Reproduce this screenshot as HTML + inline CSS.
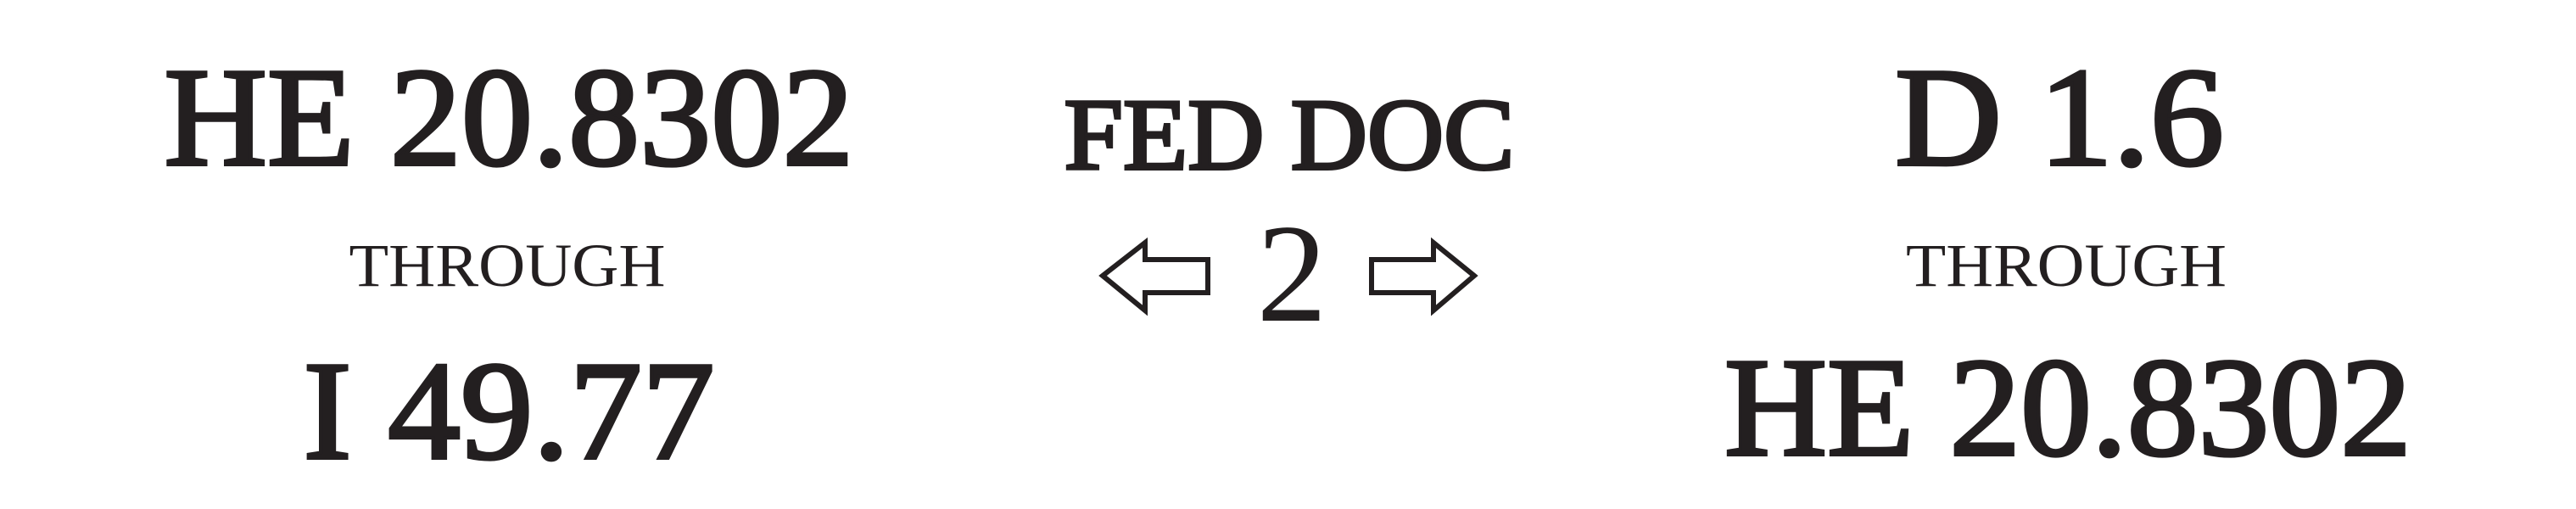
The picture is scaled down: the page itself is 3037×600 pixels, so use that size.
<!DOCTYPE html>
<html>
<head>
<meta charset="utf-8">
<style>
html,body{margin:0;padding:0;background:#fff;}
svg{display:block;}
text{font-family:"Liberation Serif",serif;fill:#231f20;}
.med{stroke:#231f20;stroke-width:4;}
</style>
</head>
<body>
<svg width="3037" height="600" viewBox="0 0 3037 600">
  <rect width="3037" height="600" fill="#fff"/>
  <!-- left column -->
  <text class="med" x="600" y="194" font-size="166" text-anchor="middle" textLength="813" lengthAdjust="spacingAndGlyphs">HE 20.8302</text>
  <text x="598" y="337" font-size="72" text-anchor="middle" textLength="373" lengthAdjust="spacingAndGlyphs">THROUGH</text>
  <text class="med" x="600" y="540" font-size="166" text-anchor="middle" textLength="485" lengthAdjust="spacingAndGlyphs">I 49.77</text>
  <!-- middle -->
  <text class="med" x="1520" y="199" font-size="120" text-anchor="middle" textLength="531" lengthAdjust="spacingAndGlyphs">FED DOC</text>
  <text x="1523" y="378" font-size="166" text-anchor="middle">2</text>
  <polygon points="1300,325 1350,286 1350,306 1424,306 1424,345 1350,345 1350,366" fill="none" stroke="#231f20" stroke-width="6"/>
  <polygon points="1738,325 1690,286 1690,306 1617,306 1617,345 1690,345 1690,366" fill="none" stroke="#231f20" stroke-width="6"/>
  <!-- right column -->
  <text class="med" x="2428" y="194" font-size="166" text-anchor="middle" textLength="388" lengthAdjust="spacingAndGlyphs">D 1.6</text>
  <text x="2436" y="337" font-size="72" text-anchor="middle" textLength="378" lengthAdjust="spacingAndGlyphs">THROUGH</text>
  <text class="med" x="2438" y="536" font-size="166" text-anchor="middle" textLength="810" lengthAdjust="spacingAndGlyphs">HE 20.8302</text>
</svg>
</body>
</html>
